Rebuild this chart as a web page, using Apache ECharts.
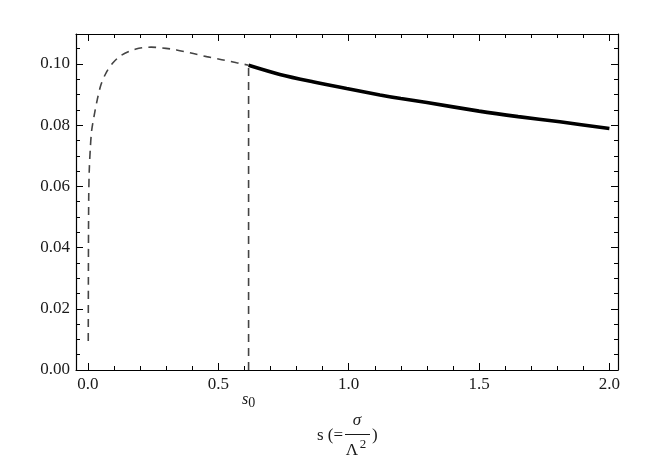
<!DOCTYPE html>
<html>
<head>
<meta charset="utf-8">
<script src="https://cdn.jsdelivr.net/npm/echarts@6/dist/echarts.min.js"></script>
<style>html,body{margin:0;padding:0;background:#fff}#c{width:654px;height:463px}</style>
</head>
<body>
<div id="c"></div>
<script>
// ---- data ----
var S0 = 0.616;
var dashedCurve = [
  [0.001, 0.0095], [0.0015, 0.03], [0.002, 0.045], [0.003, 0.058], [0.005, 0.0655],
  [0.009, 0.0725], [0.014, 0.0782], [0.024, 0.0833], [0.036, 0.0885], [0.05, 0.0933],
  [0.07, 0.0972], [0.095, 0.1003], [0.127, 0.1028], [0.184, 0.1049], [0.242, 0.1055],
  [0.299, 0.1051], [0.34, 0.1046], [0.404, 0.1034], [0.455, 0.1024], [0.513, 0.1014],
  [0.570, 0.1004], [0.616, 0.0996]
];
var solidCurve = [
  [0.616, 0.0996], [0.736, 0.0966], [0.862, 0.0942], [0.992, 0.0920], [1.12, 0.0899],
  [1.2, 0.0887], [1.3, 0.0874], [1.5, 0.0846], [1.65, 0.0828], [1.81, 0.0811], [2.0, 0.0789]
];
var s0Line = [[S0, 0], [S0, 0.0996]];
var xMajor = [0, 0.5, 1.0, 1.5, 2.0];
var xMinor = [0.1, 0.2, 0.3, 0.4, 0.6, 0.7, 0.8, 0.9, 1.1, 1.2, 1.3, 1.4, 1.6, 1.7, 1.8, 1.9];
var yMajor = [0, 0.02, 0.04, 0.06, 0.08, 0.10];
var yMinor = [0.005, 0.01, 0.015, 0.025, 0.03, 0.035, 0.045, 0.05, 0.055, 0.065, 0.07, 0.075, 0.085, 0.09, 0.095, 0.105];
var XMIN = -0.046, XMAX = 2.033, YMIN = 0, YMAX = 0.1098;

// ---- chart ----
var FONT = '"Liberation Serif","DejaVu Serif",serif';
var TXT = '#1a1a1a';
var FS = 17;
function xAx(pos, ticks, len, lineShow, labels) {
  return {
    type: 'value', position: pos, min: XMIN, max: XMAX,
    axisLine: { show: lineShow, onZero: false, lineStyle: { color: '#000', width: 1.2 } },
    axisTick: { show: len > 0, inside: true, length: len, customValues: ticks, lineStyle: { color: '#000', width: 1 } },
    axisLabel: labels ? { show: true, customValues: labels, formatter: function (v) { return v.toFixed(1); },
      fontFamily: FONT, fontSize: FS, color: TXT, margin: 6 } : { show: false },
    splitLine: { show: false }
  };
}
function yAx(pos, ticks, len, lineShow, labels) {
  return {
    type: 'value', position: pos, min: YMIN, max: YMAX,
    axisLine: { show: lineShow, onZero: false, lineStyle: { color: '#000', width: 1.2 } },
    axisTick: { show: true, inside: true, length: len, customValues: ticks, lineStyle: { color: '#000', width: 1 } },
    axisLabel: labels ? { show: true, customValues: labels, formatter: function (v) { return v.toFixed(2); },
      fontFamily: FONT, fontSize: FS, color: TXT, margin: 6 } : { show: false },
    splitLine: { show: false }
  };
}
var xs0 = {
  type: 'value', position: 'bottom', min: XMIN, max: XMAX,
  axisLine: { show: false }, axisTick: { show: false }, splitLine: { show: false },
  axisLabel: { show: true, customValues: [S0], margin: 19,
    formatter: function () { return '{s|s}{sub|0}'; },
    rich: {
      s: { fontFamily: FONT, fontStyle: 'italic', fontSize: 16, color: TXT },
      sub: { fontFamily: FONT, fontSize: 14, color: TXT, padding: [7, 0, 0, 0] }
    } }
};
var chart = echarts.init(document.getElementById('c'), null, { renderer: 'canvas' });
chart.setOption({
  animation: false,
  backgroundColor: '#fff',
  grid: { left: 76, right: 36, top: 34, bottom: 93, containLabel: false },
  xAxis: [
    xAx('bottom', xMajor, 7, true, xMajor),
    xAx('bottom', xMinor, 4, false, null),
    xAx('top', xMajor, 7, true, null),
    xAx('top', xMinor, 4, false, null),
    xs0
  ],
  yAxis: [
    yAx('left', yMajor, 7, true, yMajor),
    yAx('left', yMinor, 4, false, null),
    yAx('right', yMajor, 7, true, null),
    yAx('right', yMinor, 4, false, null)
  ],
  series: [
    { type: 'line', data: dashedCurve, smooth: 0.3, showSymbol: false, symbol: 'none',
      lineStyle: { color: '#444', width: 1.6, type: [8, 6] }, z: 3 },
    { type: 'line', data: s0Line, showSymbol: false, symbol: 'none',
      lineStyle: { color: '#444', width: 1.6, type: [8, 6] }, z: 3 },
    { type: 'line', data: solidCurve, smooth: 0.3, showSymbol: false, symbol: 'none',
      lineStyle: { color: '#000', width: 3.6 }, z: 4 }
  ],
  graphic: [
    { type: 'text', x: 343, y: 436, style: { text: 's (=', font: '17px ' + FONT, fill: TXT, align: 'right', verticalAlign: 'middle' } },
    { type: 'text', x: 357, y: 421, style: { text: 'σ', font: 'italic 17px ' + FONT, fill: TXT, align: 'center', verticalAlign: 'middle' } },
    { type: 'line', shape: { x1: 345, y1: 434.5, x2: 370, y2: 434.5 }, style: { stroke: TXT, lineWidth: 1 } },
    { type: 'text', x: 352, y: 451, style: { text: 'Λ', font: '17px ' + FONT, fill: TXT, align: 'center', verticalAlign: 'middle' } },
    { type: 'text', x: 363, y: 445, style: { text: '2', font: '13px ' + FONT, fill: TXT, align: 'center', verticalAlign: 'middle' } },
    { type: 'text', x: 372, y: 436, style: { text: ')', font: '17px ' + FONT, fill: TXT, align: 'left', verticalAlign: 'middle' } }
  ]
});
</script>
</body>
</html>
